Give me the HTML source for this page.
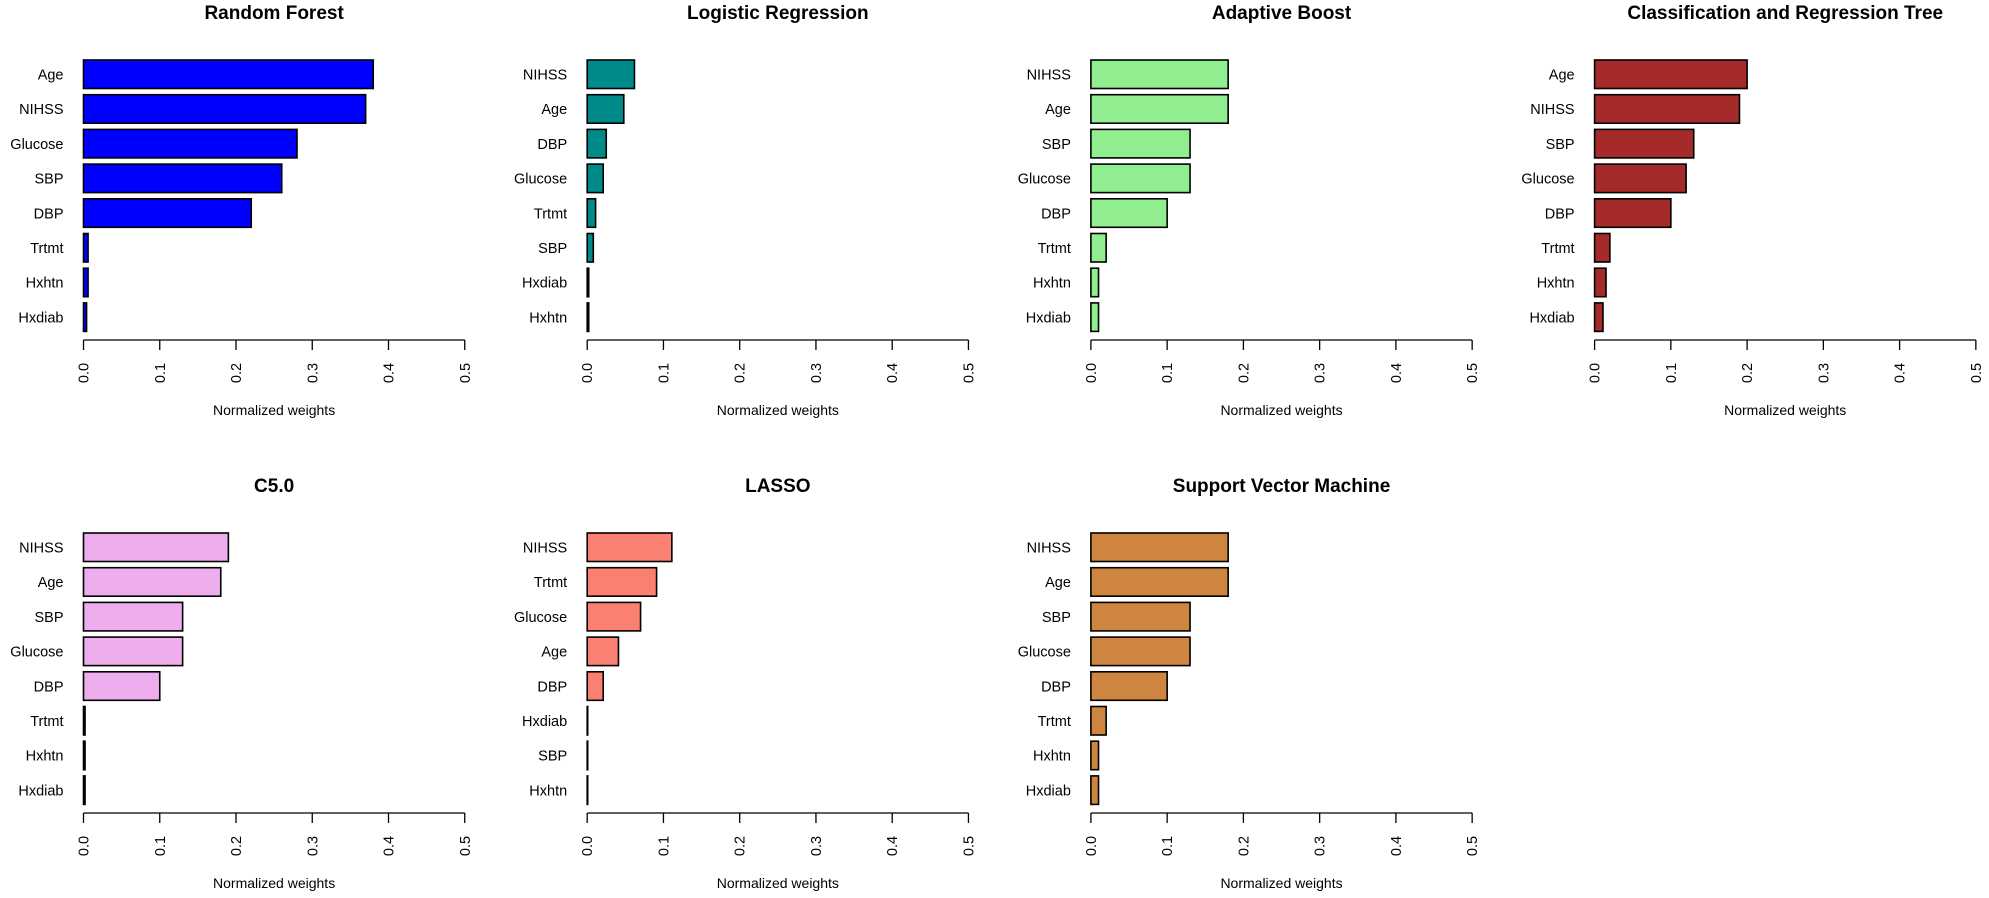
<!DOCTYPE html>
<html><head><meta charset="utf-8"><style>
html,body{margin:0;padding:0;background:#fff;}
svg{display:block;font-family:"Liberation Sans",Arial,sans-serif;}
</style></head><body>
<svg id="chart" width="1989" height="898" viewBox="0 0 1989 898" xmlns="http://www.w3.org/2000/svg"></svg>
<script>
const panelTitles = ["Random Forest","Logistic Regression","Adaptive Boost","Classification and Regression Tree","C5.0","LASSO","Support Vector Machine"];
const panelColors = ["#0000ff","#008b8b","#90ee90","#a52a2a","#eeaeee","#fa8072","#cd853f"];
const rfLabels = ["Age","NIHSS","Glucose","SBP","DBP","Trtmt","Hxhtn","Hxdiab"];
const rfValues = [0.38,0.37,0.28,0.26,0.22,0.006,0.006,0.004];
const lrLabels = ["NIHSS","Age","DBP","Glucose","Trtmt","SBP","Hxdiab","Hxhtn"];
const lrValues = [0.062,0.048,0.025,0.021,0.011,0.008,0.002,0.002];
const abLabels = ["NIHSS","Age","SBP","Glucose","DBP","Trtmt","Hxhtn","Hxdiab"];
const abValues = [0.18,0.18,0.13,0.13,0.10,0.02,0.01,0.01];
const cartLabels = ["Age","NIHSS","SBP","Glucose","DBP","Trtmt","Hxhtn","Hxdiab"];
const cartValues = [0.20,0.19,0.13,0.12,0.10,0.02,0.015,0.011];
const c50Labels = ["NIHSS","Age","SBP","Glucose","DBP","Trtmt","Hxhtn","Hxdiab"];
const c50Values = [0.19,0.18,0.13,0.13,0.10,0.002,0.002,0.002];
const lassoLabels = ["NIHSS","Trtmt","Glucose","Age","DBP","Hxdiab","SBP","Hxhtn"];
const lassoValues = [0.111,0.091,0.070,0.041,0.021,0,0,0];
const svmLabels = ["NIHSS","Age","SBP","Glucose","DBP","Trtmt","Hxhtn","Hxdiab"];
const svmValues = [0.18,0.18,0.13,0.13,0.10,0.02,0.01,0.01];
const tickValues = [0,0.1,0.2,0.3,0.4,0.5];
const tickLabels = ["0.0","0.1","0.2","0.3","0.4","0.5"];
const allLabels = [rfLabels,lrLabels,abLabels,cartLabels,c50Labels,lassoLabels,svmLabels];
const allValues = [rfValues,lrValues,abValues,cartValues,c50Values,lassoValues,svmValues];

const NS="http://www.w3.org/2000/svg";
const svg=document.getElementById('chart');
function mk(tag,attrs,parent){const e=document.createElementNS(NS,tag);for(const k in attrs)e.setAttribute(k,attrs[k]);parent.appendChild(e);return e;}

for(let p=0;p<panelTitles.length;p++){
  const col=p%4,row=Math.floor(p/4);
  const x0=83.5+col*503.7, oy=row*473;
  const xs=v=>x0+v*762.5;
  const yTop=i=>oy+60+i*34.7;
  const g=mk('g',{},svg);
  
  
  const t=mk('text',{x:xs(0.25),y:oy+19,'text-anchor':'middle','font-size':'19','font-weight':'bold',fill:'#000'},g);
  t.textContent=panelTitles[p];
  
  
  const labs=allLabels[p],vals=allValues[p];
  for(let i=0;i<vals.length;i++){
    const r=mk('rect',{x:xs(0),y:yTop(i),width:Math.max(xs(vals[i])-xs(0),0.5),height:28.5,fill:panelColors[p],stroke:'#000','stroke-width':'1.6'},g);
    
    
    const l=mk('text',{x:x0-20,y:yTop(i)+19.5,'text-anchor':'end','font-size':'14.5',fill:'#000'},g);
    l.textContent=labs[i];
    
    
  }
  const ax=mk('line',{x1:xs(0),x2:xs(0.5),y1:oy+340,y2:oy+340,stroke:'#000','stroke-width':'1.3'},g);
  
  
  for(let k=0;k<tickValues.length;k++){
    const x=xs(tickValues[k]);
    const tk=mk('line',{x1:x,x2:x,y1:oy+340,y2:oy+350,stroke:'#000','stroke-width':'1.3'},g);
    
    
    const tl=mk('text',{x:0,y:0,'text-anchor':'middle','font-size':'14.5',fill:'#000',transform:`translate(${x+5},${oy+373}) rotate(-90)`},g);
    tl.textContent=tickLabels[k];
    
    
  }
  const xt=mk('text',{x:xs(0.25),y:oy+415,'text-anchor':'middle','font-size':'14',fill:'#000'},g);
  xt.textContent='Normalized weights';
  
  
}
</script>
</body></html>
